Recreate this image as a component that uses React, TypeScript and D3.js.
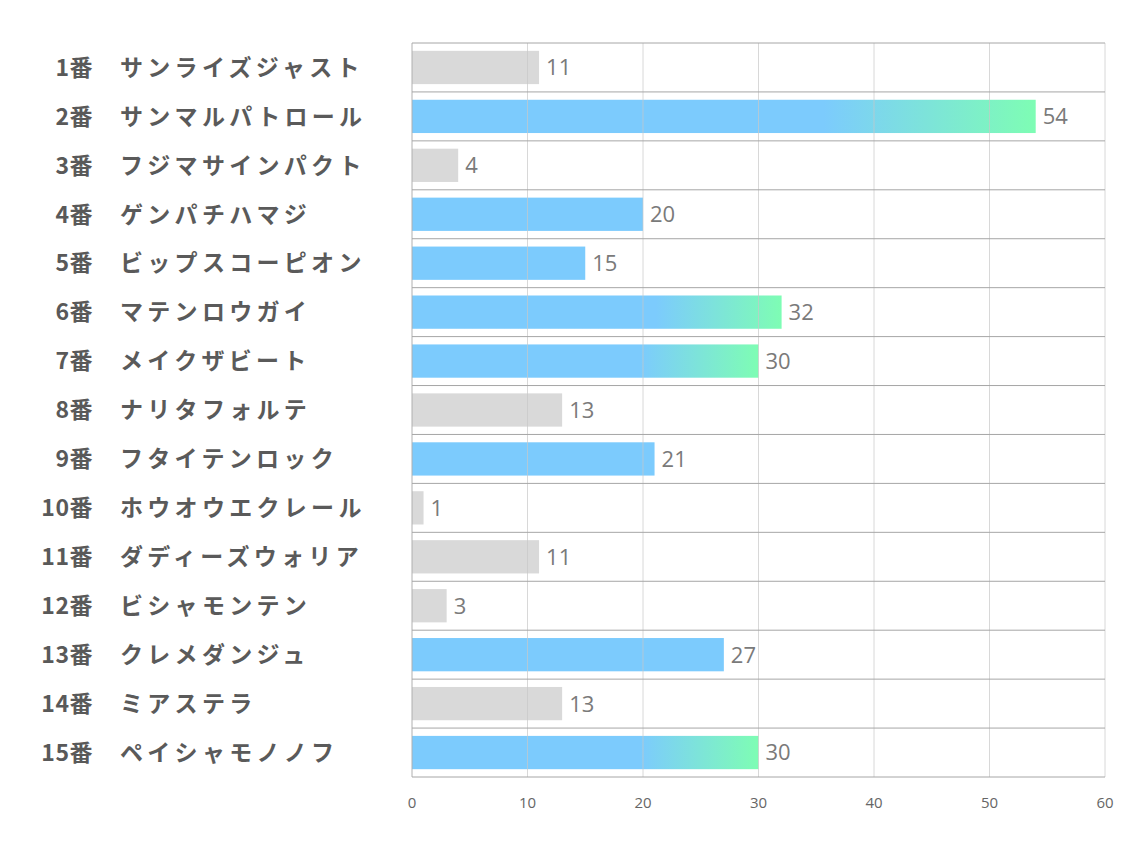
import React from "react";
import * as d3 from "d3";

const numbers = ["1番","2番","3番","4番","5番","6番","7番","8番","9番","10番","11番","12番","13番","14番","15番"];
const names = ["サンライズジャスト","サンマルパトロール","フジマサインパクト","ゲンパチハマジ","ビップスコーピオン","マテンロウガイ","メイクザビート","ナリタフォルテ","フタイテンロック","ホウオウエクレール","ダディーズウォリア","ビシャモンテン","クレメダンジュ","ミアステラ","ペイシャモノノフ"];
const values = [11,54,4,20,15,32,30,13,21,1,11,3,27,13,30];
const kinds = ["gray","grad","gray","blue","blue","grad","grad","gray","blue","gray","gray","gray","blue","gray","grad"];
const ticks = [0,10,20,30,40,50,60];

export default function App() {
  const W = 1134, H = 850;
  const left = 412, right = 1105, top = 43, bottom = 777;
  const x = d3.scaleLinear().domain([0, 60]).range([left, right]);
  const y = d3.scaleBand<number>().domain(d3.range(values.length)).range([top, bottom]).paddingInner(0.32).paddingOuter(0.16);
  const rowH = (bottom - top) / values.length;
  const fillFor = (k: string) => k === "gray" ? "#d9d9d9" : k === "blue" ? "#7ccbfd" : "url(#g)";
  return (
    <svg width={W} height={H} style={{ position: "absolute", left: 0, top: 0, background: "#fff" }}>
      <defs>
        <linearGradient id="g" x1="0" x2="1" y1="0" y2="0">
          <stop offset="0" stopColor="#7ccbfd" />
          <stop offset="0.66" stopColor="#7ccbfd" />
          <stop offset="1" stopColor="#7efdb4" />
        </linearGradient>
      </defs>
      {values.map((v, i) => (
        <rect key={"b" + i} x={x(0)} y={y(i)} width={x(v) - x(0)} height={y.bandwidth()} fill={fillFor(kinds[i])} />
      ))}
      {ticks.map((t) => (
        <line key={"v" + t} x1={x(t)} x2={x(t)} y1={top} y2={bottom} stroke={t === 0 ? "#b0b0b0" : "#c8c8c8"} strokeOpacity={t === 0 ? 1 : 0.7} strokeWidth={1} />
      ))}
      {d3.range(values.length + 1).map((i) => (
        <line key={"h" + i} x1={left} x2={right} y1={top + i * rowH} y2={top + i * rowH} stroke="#a6a6a6" strokeWidth={1} />
      ))}
      {values.map((v, i) => (
        <text key={"l" + i} x={x(v) + 7} y={y(i)! + y.bandwidth() / 2} dy="0.36em" fontFamily="'Open Sans', 'Noto Sans', sans-serif" fontSize={22} fill="#7a7a7a">{v}</text>
      ))}
      {numbers.map((n, i) => (
        <text key={"n" + i} x={93} y={top + (i + 0.5) * rowH} dy="0.36em" textAnchor="end" fontFamily="'Noto Sans CJK JP', sans-serif" fontWeight={700} fontSize={23} letterSpacing={0.5} fill="#595959">{n}</text>
      ))}
      {names.map((n, i) => (
        <text key={"m" + i} x={120} y={top + (i + 0.5) * rowH} dy="0.36em" fontFamily="'Noto Sans CJK JP', sans-serif" fontWeight={700} fontSize={23} letterSpacing={4.3} fill="#5a5a5a">{n}</text>
      ))}
      {ticks.map((t) => (
        <text key={"t" + t} x={x(t)} y={803} dy="0.36em" textAnchor="middle" fontFamily="'Open Sans', 'Noto Sans', sans-serif" fontSize={15} fill="#666">{t}</text>
      ))}
    </svg>
  );
}
